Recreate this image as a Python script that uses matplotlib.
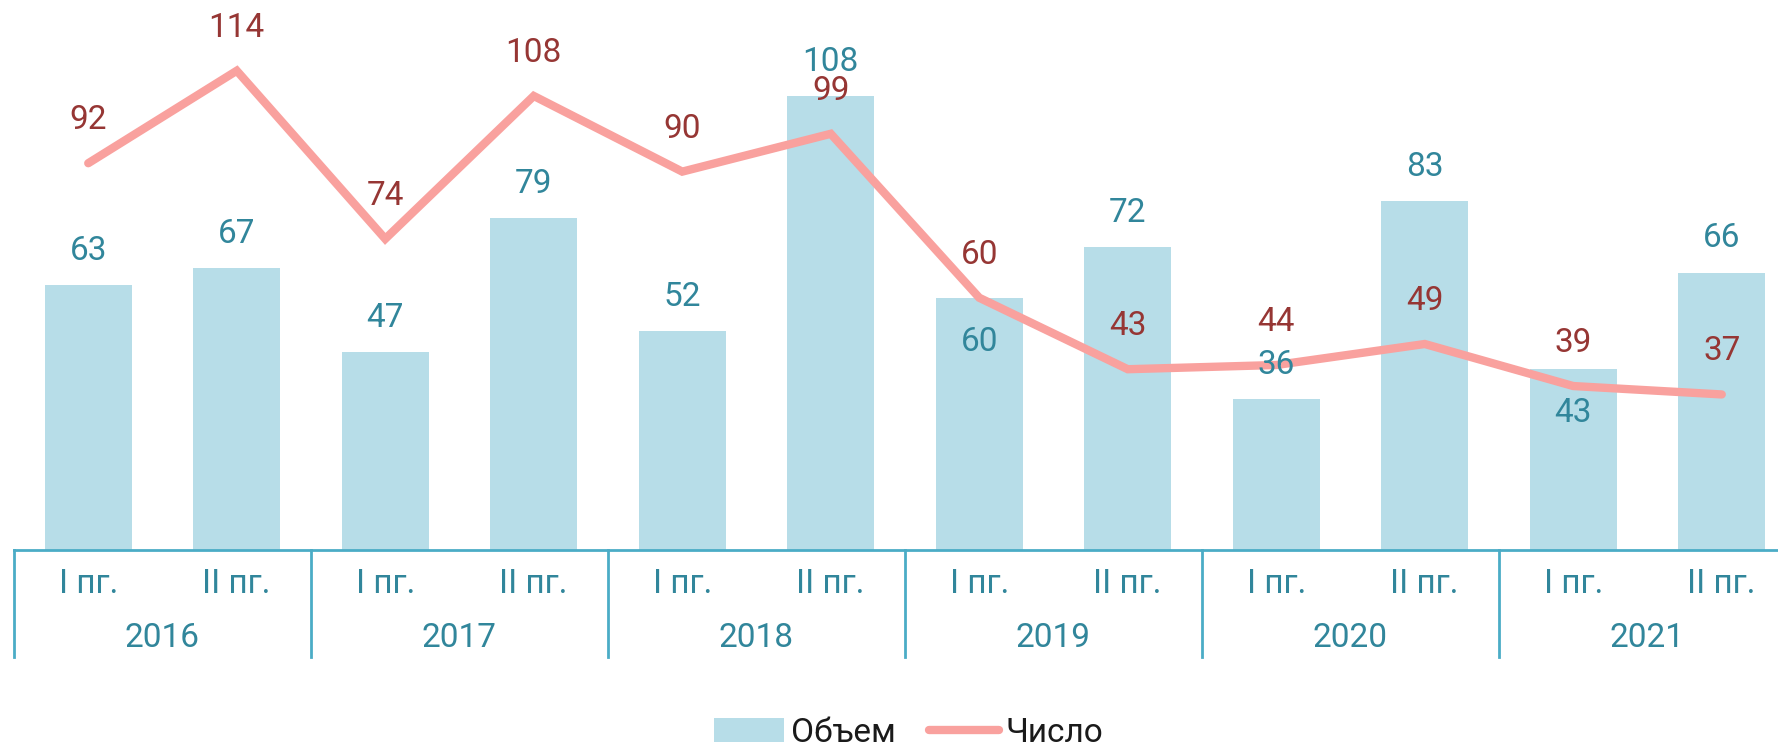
import numpy as np
import matplotlib
matplotlib.use('Agg')
import matplotlib.pyplot as plt
from matplotlib.lines import Line2D
from matplotlib.patches import Patch

plt.rcParams['font.family'] = ['Roboto', 'DejaVu Sans']

halves = ['I пг.', 'II пг.'] * 6
years = ['2016', '2017', '2018', '2019', '2020', '2021']
volume = [63, 67, 47, 79, 52, 108, 60, 72, 36, 83, 43, 66]
count = [92, 114, 74, 108, 90, 99, 60, 43, 44, 49, 39, 37]
# bars whose value label sits inside the bar instead of on top
inside = [6, 10]

BAR_C = '#b7dde8'
BAR_TXT = '#31869b'
LINE_C = '#f9a19e'
LINE_TXT = '#963634'
AXIS_C = '#4bacc6'

fig = plt.figure(figsize=(17.78, 7.47), dpi=100)
ax = fig.add_axes([14 / 1778, 197 / 747, 1782 / 1778, 504.5 / 747])

x = np.arange(len(volume))
ax.bar(x, volume, width=0.585, color=BAR_C, zorder=1)
ax.plot(x, count, color=LINE_C, lw=6, solid_capstyle='round',
        solid_joinstyle='miter', zorder=2)

for i, v in enumerate(volume):
    dy = -31.5 if i in inside else 24.5
    ax.annotate(str(v), (x[i], v), xytext=(0, dy), textcoords='offset points',
                ha='center', va='center', fontsize=24, color=BAR_TXT, zorder=3)
for i, v in enumerate(count):
    ax.annotate(str(v), (x[i], v), xytext=(0, 31), textcoords='offset points',
                ha='center', va='center', fontsize=24, color=LINE_TXT, zorder=3)

ax.set_xlim(-0.5, len(volume) - 0.5)
ax.set_ylim(0, 120)
for s in ['top', 'left', 'right']:
    ax.spines[s].set_visible(False)
ax.spines['bottom'].set_color(AXIS_C)
ax.spines['bottom'].set_linewidth(2)
ax.set_xticks([])
ax.set_yticks([])

# two-level category axis: halves, then years, with group separators
tr = ax.get_xaxis_transform()
for i, lab in enumerate(halves):
    ax.text(x[i], -43 / 504.5, lab, transform=tr, ha='center', va='baseline',
            fontsize=24, color=BAR_TXT)
for j, yr in enumerate(years):
    ax.text(2 * j + 0.5, -97 / 504.5, yr, transform=tr, ha='center',
            va='baseline', fontsize=24, color=BAR_TXT)
for j in range(len(years)):
    ax.plot([2 * j - 0.5, 2 * j - 0.5], [0, -107 / 504.5], transform=tr,
            color=AXIS_C, lw=2, clip_on=False)

handles = [Patch(facecolor=BAR_C, edgecolor='none', label='Объем'),
           Line2D([0], [0], color=LINE_C, lw=6, solid_capstyle='round',
                  label='Число')]
fig.legend(handles=handles, loc='center', bbox_to_anchor=(0.511, 0.019),
           ncol=2, frameon=False, fontsize=24, handlelength=2.1,
           handletextpad=0.2, columnspacing=1.0, labelcolor='#1a1a1a')

fig.savefig('out.png', dpi=100)
